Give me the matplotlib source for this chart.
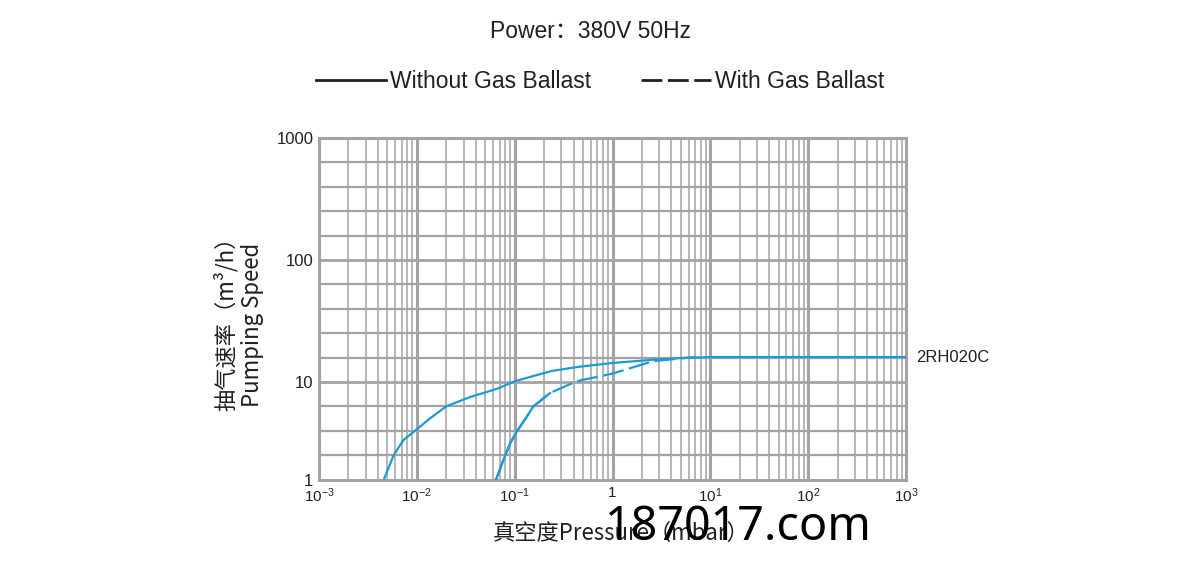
import numpy as np
import matplotlib
matplotlib.use("Agg")
import matplotlib.pyplot as plt
from matplotlib.lines import Line2D
from matplotlib import font_manager

# ---------------- data ----------------
without_x = [0.0046, 0.0058, 0.0073, 0.0096, 0.0137, 0.020, 0.035, 0.066, 0.10, 0.133,
             0.24, 0.45, 1.0, 2.6, 5.0, 10.0, 1000.0]
without_y = [1.0, 1.78, 2.54, 3.16, 4.25, 5.62, 7.0, 8.5, 10.1, 10.8,
             12.3, 13.3, 14.3, 15.2, 15.7, 16.0, 16.0]

with_x = [0.0645, 0.0766, 0.090, 0.105, 0.133, 0.155, 0.23, 0.36, 0.47, 1.0, 2.6, 7.0]
with_y = [1.0, 1.58, 2.35, 3.1, 4.4, 5.6, 7.7, 9.4, 10.3, 11.7, 14.8, 16.0]
with_solid_until = 0.23   # the start of the "with ballast" curve is drawn solid

x_major = [1e-3, 1e-2, 1e-1, 1, 1e1, 1e2, 1e3]
x_labels = [r"$10^{-3}$", r"$10^{-2}$", r"$10^{-1}$", "1", r"$10^{1}$", r"$10^{2}$", r"$10^{3}$"]
y_major = [1, 10, 100, 1000]
y_labels = ["1", "10", "100", "1000"]
y_minor = [1.78, 3.16, 5.62, 15.85, 25.1, 39.8, 63.1, 158.5, 251.0, 398.0, 631.0]

model_label = "2RH020C"
title = "Power：380V 50Hz"
legend_labels = ["Without Gas Ballast", "With Gas Ballast"]

# ---------------- fonts ----------------
def have(name):
    try:
        font_manager.findfont(name, fallback_to_default=False)
        return True
    except Exception:
        return False

narrow = "Liberation Sans Narrow" if have("Liberation Sans Narrow") else "Liberation Sans"
CJK = "Noto Sans CJK SC"
plt.rcParams["font.family"] = ["Liberation Sans", CJK, "DejaVu Sans"]
plt.rcParams["mathtext.fontset"] = "custom"
plt.rcParams["mathtext.rm"] = "Liberation Sans"
plt.rcParams["mathtext.it"] = "Liberation Sans"

BLUE = "#1e9ad6"
GRID = "#a3a3a3"
DARK = "#231f20"

# ---------------- figure ----------------
fig = plt.figure(figsize=(12, 5.69), dpi=100)
ax = fig.add_axes([319/1200, 1-479.5/569, (906-319)/1200, (479.5-138)/569])

def fwd(y):
    l = np.log10(np.maximum(np.asarray(y, dtype=float), 1e-300))
    return np.where(l < 1, 0.8*l, l - 0.2)

def inv(t):
    t = np.asarray(t, dtype=float)
    return np.where(t < 0.8, 10**(t/0.8), 10**(t + 0.2))

ax.set_xscale("log")
ax.set_yscale("function", functions=(fwd, inv))
ax.set_xlim(1e-3, 1e3)
ax.set_ylim(1, 1000)

ax.set_xticks(x_major)
ax.set_xticklabels(x_labels)
ax.set_xticks([m*10.0**k for k in range(-3, 3) for m in range(2, 10)], minor=True)
ax.set_yticks(y_major)
ax.set_yticklabels(y_labels)
ax.set_yticks(y_minor, minor=True)

ax.tick_params(which="both", length=0)
ax.tick_params(axis="x", which="major", pad=5, labelsize=11, colors=DARK)
ax.tick_params(axis="y", which="major", pad=4, labelsize=12, colors=DARK)
ax.set_xticklabels([], minor=True)
ax.set_yticklabels([], minor=True)
for lab in ax.get_yticklabels():
    lab.set_verticalalignment("center_baseline")

ax.grid(True, axis="x", which="major", color=GRID, lw=2.2)
ax.grid(True, axis="x", which="minor", color=GRID, lw=1.1)
ax.grid(True, axis="y", which="major", color=GRID, lw=2.0)
ax.grid(True, axis="y", which="minor", color=GRID, lw=1.6)
for s in ax.spines.values():
    s.set_color(GRID)
    s.set_linewidth(2.2)
ax.set_axisbelow(True)

# curves
ax.plot(without_x, without_y, color=BLUE, lw=1.6, solid_capstyle="butt", zorder=3)
ax.plot(with_x, with_y, color=BLUE, lw=1.6, dashes=(9.5, 2.5), zorder=3)
wx = [x for x in with_x if x <= with_solid_until]
wy = with_y[:len(wx)]
ax.plot(wx, wy, color=BLUE, lw=1.6, zorder=3)

ax.annotate(model_label, xy=(without_x[-1], without_y[-1]), xytext=(7, 0),
            textcoords="offset points", va="center", ha="left",
            fontsize=12, color=DARK, annotation_clip=False)

# title & legend
fig.text(591/1200, 1-31/569, title, ha="center", va="center",
         fontsize=16.5, color=DARK, family=[narrow, CJK])
handles = [Line2D([], [], color=DARK, lw=2.0),
           Line2D([], [], color=DARK, lw=2.0, dashes=(7.5, 2.0))]
fig.legend(handles, legend_labels, loc="center", bbox_to_anchor=(600/1200, 1-82/569),
           ncol=2, frameon=False, handlelength=3.05, handletextpad=0.17,
           columnspacing=2.2, prop={"family": narrow, "size": 16.5},
           labelcolor=DARK)

# axis labels
fig.text(226/1200, 1-318/569, "抽气速率（m³/h）", rotation=90, ha="center", va="center",
         fontsize=16, color=DARK, family=[CJK, "DejaVu Sans"])
fig.text(253/1200, 1-325/569, "Pumping Speed", rotation=90, ha="center", va="center",
         fontsize=16, color=DARK, family=[CJK, "DejaVu Sans"])
fig.text(493/1200, 1-533/569, "真空度Pressure（mbar）", ha="left", va="center",
         fontsize=16, color=DARK, family=[CJK, "DejaVu Sans"])

# watermark
fig.text(605/1200, 1-540/569, "187017.com", ha="left", va="baseline",
         fontsize=33.7, color="black", family=["Noto Sans", "DejaVu Sans"])

fig.savefig("out.png", dpi=100, facecolor="white")
